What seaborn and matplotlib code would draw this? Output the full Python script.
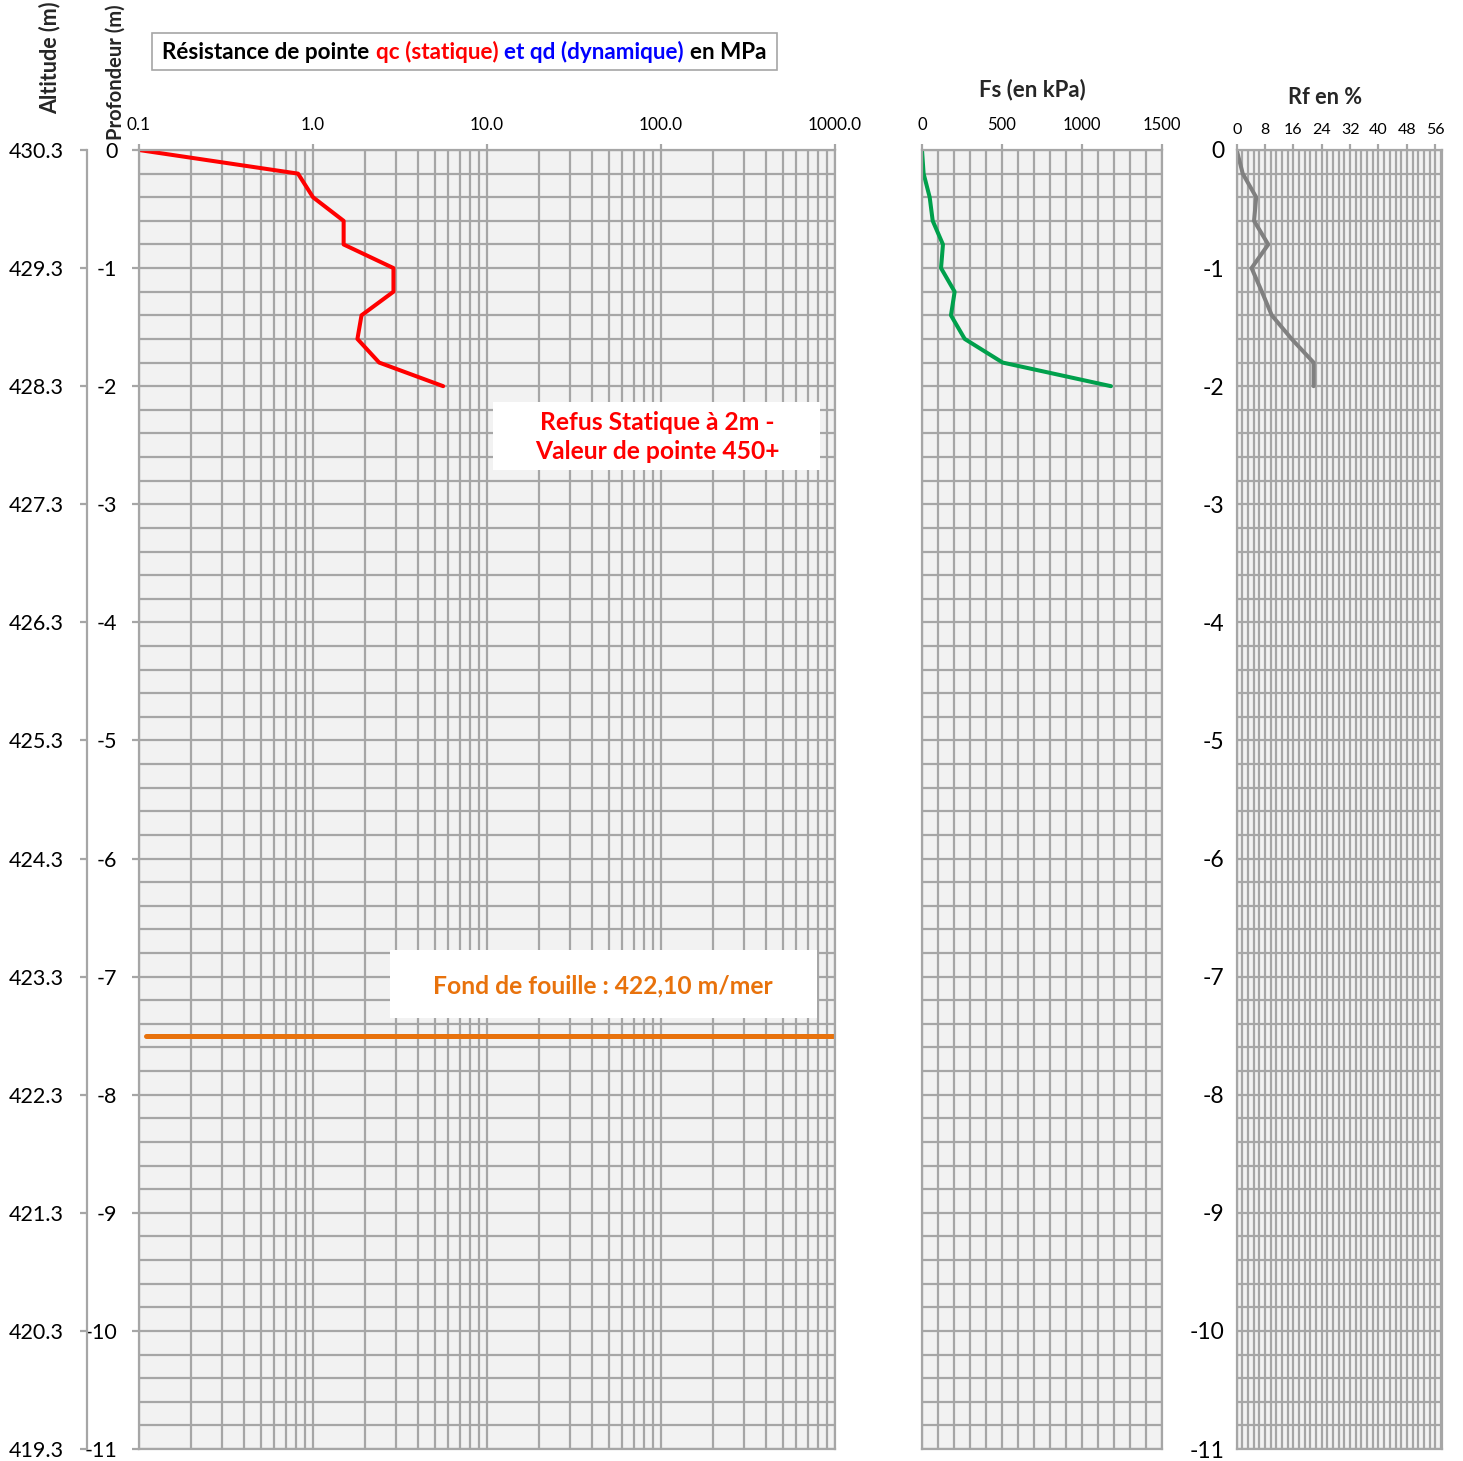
import matplotlib
matplotlib.use("Agg")
import matplotlib.pyplot as plt
import seaborn as sns
from matplotlib.ticker import MultipleLocator, FixedLocator, LogLocator, NullFormatter
from matplotlib.offsetbox import TextArea, HPacker, AnnotationBbox
from matplotlib.patches import Rectangle

# ---- sounding data (depth in m, 0 = ground level) ----
depth = [0.0, -0.2, -0.4, -0.6, -0.8, -1.0, -1.2, -1.4, -1.6, -1.8, -2.0]
qc_mpa = [0.1, 0.82, 1.0, 1.5, 1.5, 2.9, 2.9, 1.9, 1.8, 2.4, 5.6]
fs_kpa = [0, 10, 48, 67, 131, 119, 204, 181, 267, 504, 1181]
rf_pct = [0, 1.7, 5.5, 4.9, 8.9, 4.2, 7.1, 9.9, 15.5, 21.7, 21.7]

# excavation level line
excavation_depth = -7.5
excavation_qc = [0.11, 1000.0]

# axes ticks and labels
depth_ticks = [0, -1, -2, -3, -4, -5, -6, -7, -8, -9, -10, -11]
depth_labels = ["0", "-1", "-2", "-3", "-4", "-5", "-6", "-7", "-8", "-9", "-10", "-11"]
altitude_labels = ["430.3", "429.3", "428.3", "427.3", "426.3", "425.3",
                   "424.3", "423.3", "422.3", "421.3", "420.3", "419.3"]
qc_ticks = [0.1, 1.0, 10.0, 100.0, 1000.0]
qc_labels = ["0.1", "1.0", "10.0", "100.0", "1000.0"]
fs_ticks = [0, 500, 1000, 1500]
rf_ticks = [0, 8, 16, 24, 32, 40, 48, 56]

title_parts = [("Résistance de pointe", "black"),
               ("qc (statique)", "#FF0000"),
               ("et qd (dynamique)", "#0000FF"),
               ("en MPa", "black")]

sns.set_theme(style="white")
plt.rcParams["font.family"] = ["Lato", "DejaVu Sans"]
plt.rcParams["axes.unicode_minus"] = False

W, H = 1463, 1461
fig = plt.figure(figsize=(W / 100, H / 100), dpi=100)
fig.patch.set_facecolor("white")

GRID = "#A6A6A6"
BG = "#F2F2F2"
GLW = 1.6


def fx(x):
    return x / W


def fy(y):
    return 1 - y / H


def axes_rect(x0, x1, y0, y1):
    return [fx(x0), fy(y1), (x1 - x0) / W, (y1 - y0) / H]


def style(ax, xlabelsize=12, xpad=8):
    ax.set_facecolor(BG)
    for s in ax.spines.values():
        s.set_color(GRID)
        s.set_linewidth(GLW)
    ax.grid(which="both", color=GRID, linewidth=GLW)
    ax.set_axisbelow(True)
    ax.xaxis.tick_top()
    ax.tick_params(axis="x", which="major", direction="out", length=4.5,
                   color=GRID, width=GLW, pad=xpad, labelsize=xlabelsize,
                   labelcolor="black", top=True, bottom=False)
    ax.tick_params(axis="x", which="minor", length=0, top=False, bottom=False)
    ax.tick_params(axis="y", which="major", direction="out", length=5,
                   color=GRID, width=GLW)
    ax.tick_params(axis="y", which="minor", length=0)
    ax.set_ylim(-11, 0)
    ax.yaxis.set_major_locator(FixedLocator(depth_ticks))
    ax.yaxis.set_minor_locator(MultipleLocator(0.2))
    ax.set_xlabel("")
    ax.set_ylabel("")


# ---- qc panel (log scale) ----
ax = fig.add_axes(axes_rect(139, 835, 150, 1449))
ax.set_xscale("log")
sns.lineplot(x=qc_mpa, y=depth, ax=ax, sort=False, estimator=None,
             orient="y", color="#FF0000", linewidth=2.9)
sns.lineplot(x=excavation_qc, y=[excavation_depth] * len(excavation_qc), ax=ax,
             sort=False, estimator=None, color="#E8720C", linewidth=3.6)
style(ax, xlabelsize=12.4)
ax.set_xlim(0.1, 1000)
ax.xaxis.set_major_locator(FixedLocator(qc_ticks))
ax.set_xticklabels(qc_labels)
ax.xaxis.set_minor_locator(LogLocator(base=10, subs=range(2, 10), numticks=50))
ax.xaxis.set_minor_formatter(NullFormatter())
ax.set_yticks(depth_ticks, labels=depth_labels)
ax.tick_params(axis="y", labelsize=15.5, pad=10.5, labelcolor="black")

# altitude scale on an outward spine
ax_alt = ax.twinx()
ax_alt.set_ylim(-11, 0)
ax_alt.yaxis.tick_left()
ax_alt.set_yticks(depth_ticks, labels=altitude_labels)
for name, s in ax_alt.spines.items():
    s.set_visible(name == "left")
ax_alt.spines["left"].set_position(("outward", 37.4))
ax_alt.spines["left"].set_color(GRID)
ax_alt.spines["left"].set_linewidth(GLW)
ax_alt.tick_params(axis="y", direction="out", length=5, color=GRID, width=GLW,
                   labelsize=15.5, pad=12, labelcolor="black")
ax_alt.grid(False)

# ---- Fs panel ----
ax_fs = fig.add_axes(axes_rect(922, 1162, 150, 1449))
sns.lineplot(x=fs_kpa, y=depth, ax=ax_fs, sort=False, estimator=None,
             orient="y", color="#00A04C", linewidth=2.9)
style(ax_fs)
ax_fs.set_xlim(0, 1500)
ax_fs.xaxis.set_major_locator(FixedLocator(fs_ticks))
ax_fs.xaxis.set_minor_locator(MultipleLocator(100))
ax_fs.set_yticks(depth_ticks, labels=[])

# ---- Rf panel ----
ax_rf = fig.add_axes(axes_rect(1236.7, 1442.3, 150, 1449))
sns.lineplot(x=rf_pct, y=depth, ax=ax_rf, sort=False, estimator=None,
             orient="y", color="#808080", linewidth=2.9)
style(ax_rf, xlabelsize=11.5, xpad=5)
ax_rf.set_xlim(0, 58)
ax_rf.xaxis.set_major_locator(FixedLocator(rf_ticks))
ax_rf.xaxis.set_minor_locator(MultipleLocator(1.6))
ax_rf.set_yticks(depth_ticks, labels=depth_labels)
ax_rf.tick_params(axis="y", labelsize=16.5, pad=4, labelcolor="black")

# ---- titles ----
fig.text(fx(50), fy(58), "Altitude (m)", rotation=90, ha="center", va="center",
         fontsize=15.5, fontweight="bold")
fig.text(fx(116), fy(72), "Profondeur (m)", rotation=90, ha="center", va="center",
         fontsize=14.5, fontweight="bold")
fig.text(fx(1032), fy(90), "Fs (en kPa)", ha="center", va="center",
         fontsize=16, fontweight="bold")
fig.text(fx(1325), fy(97), "Rf en %", ha="center", va="center",
         fontsize=15.7, fontweight="bold")

fig.add_artist(Rectangle((fx(152), fy(70)), (777 - 152) / W, (70 - 33) / H,
                         transform=fig.transFigure, facecolor="white",
                         edgecolor=GRID, linewidth=1.2, zorder=2))
parts = [TextArea(s, textprops=dict(color=c, fontsize=16.2, fontweight="bold"))
         for s, c in title_parts]
packer = HPacker(children=parts, align="baseline", pad=0, sep=4.5)
fig.add_artist(AnnotationBbox(packer, (fx(464.5), fy(51.5)), xycoords="figure fraction",
                              frameon=False, box_alignment=(0.5, 0.5), zorder=3))

# ---- annotation boxes ----
fig.add_artist(Rectangle((fx(493), fy(470)), (820 - 493) / W, (470 - 402) / H,
                         transform=fig.transFigure, facecolor="white",
                         edgecolor="none", zorder=2))
fig.text(fx(657), fy(437), "Refus Statique à 2m -\nValeur de pointe 450+",
         ha="center", va="center", color="#FF0000", fontsize=17.7,
         fontweight="bold", linespacing=1.3, zorder=3)

fig.add_artist(Rectangle((fx(390), fy(1018)), (817 - 390) / W, (1018 - 950) / H,
                         transform=fig.transFigure, facecolor="white",
                         edgecolor="none", zorder=2))
fig.text(fx(603), fy(986), "Fond de fouille : 422,10 m/mer",
         ha="center", va="center", color="#E8720C", fontsize=17.7,
         fontweight="bold", zorder=3)

fig.savefig("out.png", dpi=100)
